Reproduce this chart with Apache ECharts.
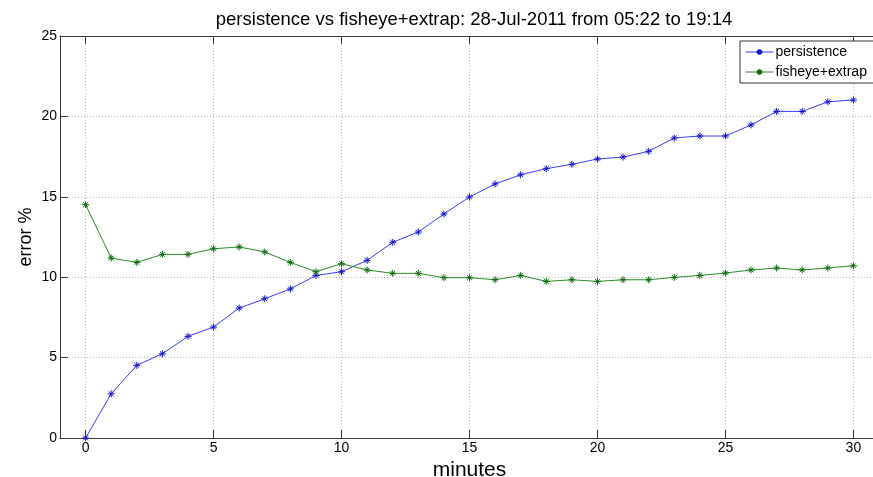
<!DOCTYPE html>
<html>
<head>
<meta charset="utf-8">
<script src="https://cdn.jsdelivr.net/npm/echarts@6/dist/echarts.min.js"></script>
<style>
html,body{margin:0;padding:0;background:#fff;overflow:hidden;}
#chart{width:873px;height:477px;}
</style>
</head>
<body>
<div id="chart"></div>
<script>
const minutes = [0,1,2,3,4,5,6,7,8,9,10,11,12,13,14,15,16,17,18,19,20,21,22,23,24,25,26,27,28,29,30];
const persistence = [0, 2.75, 4.52, 5.24, 6.32, 6.9, 8.08, 8.66, 9.27, 10.11, 10.34, 11.05, 12.17, 12.81, 13.93, 14.99, 15.8, 16.37, 16.75, 17.02, 17.35, 17.47, 17.83, 18.66, 18.78, 18.78, 19.47, 20.31, 20.31, 20.91, 21.02];
const fisheyeExtrap = [14.51, 11.19, 10.92, 11.42, 11.42, 11.77, 11.88, 11.57, 10.92, 10.34, 10.84, 10.45, 10.24, 10.24, 9.97, 9.97, 9.84, 10.11, 9.74, 9.84, 9.74, 9.84, 9.84, 9.99, 10.11, 10.26, 10.45, 10.57, 10.45, 10.57, 10.71];
const xTicks = [0, 5, 10, 15, 20, 25, 30];
const yTicks = [0, 5, 10, 15, 20, 25];
const seriesNames = ['persistence', 'fisheye+extrap'];
const titleText = 'persistence vs fisheye+extrap: 28-Jul-2011 from 05:22 to 19:14';

const FONT = 'Liberation Sans, Arial, sans-serif';
const star = 'path://M5,0L5,10M0,5L10,5M1.6,1.6L8.4,8.4M1.6,8.4L8.4,1.6';
const chart = echarts.init(document.getElementById('chart'), null, {renderer: 'canvas'});

function pairs(ys) { return minutes.map((m, i) => [m, ys[i]]); }
const axisLineStyle = {color: '#3a3a3a', width: 1};
const gridStyle = {color: '#b8b8b8', width: 1, type: [1, 2]};

chart.setOption({
  backgroundColor: '#fff',
  animation: false,
  textStyle: {fontFamily: FONT},
  title: {
    text: titleText,
    left: 469, top: 5, textAlign: 'center',
    textStyle: {fontFamily: FONT, fontSize: 18.5, fontWeight: 'normal', color: '#000'}
  },
  legend: {
    data: seriesNames,
    orient: 'vertical',
    left: 740, top: 41,
    padding: [4, 8, 4, 5],
    itemGap: 6,
    itemWidth: 28, itemHeight: 7,
    borderColor: '#333', borderWidth: 1,
    backgroundColor: '#fff',
    lineStyle: {width: 1},
    textStyle: {fontFamily: FONT, fontSize: 14, lineHeight: 14, color: '#000', padding: [0, 0, 0, -3]}
  },
  grid: {left: 60, top: 36, bottom: 39, width: 819, containLabel: false, outerBoundsMode: 'none'},
  xAxis: [{
    type: 'value', position: 'bottom', min: -1, max: 31, interval: 5,
    name: 'minutes', nameLocation: 'middle', nameGap: 14,
    nameTextStyle: {fontFamily: FONT, fontSize: 21, color: '#000'},
    axisLine: {show: true, onZero: false, lineStyle: axisLineStyle},
    axisTick: {show: true, inside: true, length: 8, lineStyle: axisLineStyle, customValues: xTicks},
    axisLabel: {show: true, fontFamily: FONT, fontSize: 14, color: '#000', margin: 3, customValues: xTicks},
    splitLine: {show: true, lineStyle: gridStyle}
  }, {
    type: 'value', position: 'top', min: -1, max: 31, interval: 5,
    axisLine: {show: true, onZero: false, lineStyle: axisLineStyle},
    axisTick: {show: true, inside: true, length: 8, lineStyle: axisLineStyle, customValues: xTicks},
    axisLabel: {show: false},
    splitLine: {show: false}
  }],
  yAxis: [{
    type: 'value', position: 'left', min: 0, max: 25, interval: 5,
    name: 'error %', nameLocation: 'middle', nameGap: 25, nameRotate: 90,
    nameMoveOverlap: false,
    nameTextStyle: {fontFamily: FONT, fontSize: 18, color: '#000'},
    axisLine: {show: true, onZero: false, lineStyle: axisLineStyle},
    axisTick: {show: true, inside: true, length: 8, lineStyle: axisLineStyle},
    axisLabel: {show: true, fontFamily: FONT, fontSize: 14, color: '#000', margin: 3},
    splitLine: {show: true, lineStyle: gridStyle}
  }],
  series: [{
    name: seriesNames[0], type: 'line', data: pairs(persistence),
    symbol: star, symbolSize: 7, showAllSymbol: true,
    lineStyle: {color: '#3c3cf8', width: 1},
    itemStyle: {color: '#1515c8', borderColor: '#1515c8', borderWidth: 1}
  }, {
    name: seriesNames[1], type: 'line', data: pairs(fisheyeExtrap),
    symbol: star, symbolSize: 7, showAllSymbol: true,
    lineStyle: {color: '#2c8c2c', width: 1},
    itemStyle: {color: '#0c6a0c', borderColor: '#0c6a0c', borderWidth: 1}
  }]
});
</script>
</body>
</html>
